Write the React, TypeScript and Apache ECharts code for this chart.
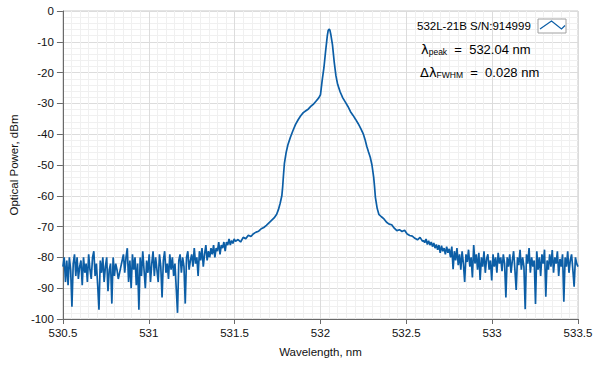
import React, { useEffect, useRef } from "react";
import * as echarts from "echarts";

// ---- data ----
const NOISE_STEP = 0.0075;
const leftNoiseStart = 530.5;
const leftNoisePower = [
  -83, -80, -88, -81, -89, -80, -84, -96, -82, -79,
  -86, -80, -87, -83, -81, -89, -80, -85, -82, -88,
  -79, -84, -87, -80, -78, -86, -82, -89, -97, -81,
  -85, -80, -88, -83, -80, -91, -84, -82, -95, -80,
  -86, -82, -84, -87, -85, -83, -81, -79, -85, -80,
  -77, -88, -81, -90, -79, -84, -80, -89, -82, -97,
  -80, -86, -78, -84, -90, -81, -85, -79, -88, -82,
  -78, -86, -80, -84, -88, -79, -83, -93, -81, -78,
  -85, -82, -87, -79, -84, -80, -86, -82, -90, -98,
  -81, -79, -85, -80, -83, -95, -80, -78, -84, -81,
  -79, -83, -77, -82, -80, -86, -78, -81, -77, -83,
  -79, -76, -81, -78, -80, -77, -79, -76, -80, -77,
  -78, -75, -79, -76, -77, -75, -78, -75, -76, -74,
  -76, -74.5, -75.5, -74,
];

const peakWavelength = [
  531.505, 531.52, 531.535, 531.55, 531.565, 531.58, 531.595, 531.61, 531.625, 531.64,
  531.655, 531.67, 531.685, 531.7, 531.715, 531.73, 531.745, 531.755, 531.765, 531.775,
  531.78, 531.785, 531.79, 531.8, 531.81, 531.825, 531.84, 531.855, 531.87, 531.885,
  531.9, 531.915, 531.93, 531.945, 531.96, 531.975, 531.99, 532.0, 532.01, 532.02,
  532.03, 532.04, 532.045, 532.05, 532.055, 532.06, 532.07, 532.08, 532.09, 532.1,
  532.115, 532.13, 532.145, 532.16, 532.175, 532.19, 532.205, 532.22, 532.235, 532.25,
  532.26, 532.27, 532.28, 532.29, 532.3, 532.31, 532.315, 532.32, 532.33, 532.34,
  532.355, 532.37, 532.385, 532.4, 532.415, 532.43, 532.445, 532.46, 532.475, 532.49,
  532.505, 532.52, 532.535, 532.55, 532.565, 532.58, 532.595,
];
const peakPower = [
  -74.8, -74.2, -75, -73.5, -73.9, -72.8, -73.2, -72.3, -71.8, -71.5,
  -70.7, -70.3, -69.6, -68.8, -68, -67.2, -66, -64.5, -62.5, -60,
  -57, -53, -49.5, -46, -43.5, -41, -38.8, -36.8, -35.3, -34,
  -33, -32.4, -31.8, -30.9, -30.2, -29.2, -28.2, -27.2, -22.5, -18.5,
  -13, -8, -6.3, -5.9, -6.2, -7.5, -11, -16.5, -21, -23.8,
  -26.3, -28.2, -29.6, -31, -32.7, -33.9, -35.2, -36.6, -38.2, -40,
  -41.8, -44, -45.8, -47.5, -50, -54, -57, -60.5, -64, -66,
  -66.8, -67.5, -68.6, -69.2, -69.4, -70.5, -71.3, -71, -71.6, -71.2,
  -72.4, -72.9, -73.1, -73.8, -74.3, -73.5, -74.8,
];

const rightNoiseStart = 532.6;
const rightNoisePower = [
  -74.5, -75.2, -74, -75.8, -74.6, -76, -75, -76.5, -75.3, -77,
  -75.8, -77.5, -76, -78.5, -76.2, -78, -77, -79, -76.5, -78.5,
  -77.2, -80, -76.5, -83.8, -78, -81, -77, -82.5, -79, -84,
  -78, -82, -88, -79, -81.5, -77.5, -83, -80, -86.5, -76,
  -82, -79, -84, -78.5, -87.3, -80, -83, -78, -85, -80.5,
  -79, -84, -81, -87.5, -79, -83, -80, -85, -78.5, -82,
  -80, -84.5, -79, -82, -93, -80, -83, -79, -85, -81,
  -78, -84, -90.6, -80, -82.5, -77.5, -84, -80, -83, -96.8,
  -79, -82, -77, -85, -80, -83, -81, -95.1, -78, -84,
  -80, -86, -79, -82, -77.5, -92.8, -81, -84, -79, -83,
  -77.6, -85, -80, -82, -78, -86, -80.5, -83, -79, -94.4,
  -80, -83, -78, -85, -81, -79, -84, -89.5, -80, -82,
  -83,
];

const seriesName = "532L-21B S/N:914999";
const peakLabel = "532.04 nm";
const fwhmLabel = "0.028 nm";
const xTicks = { min: 530.5, max: 533.5, interval: 0.5 };
const yTicks = { min: -100, max: 0, interval: 10 };

const FONT = "'Liberation Sans', Arial, sans-serif";

function buildData(): [number, number][] {
  const out: [number, number][] = [];
  leftNoisePower.forEach((v, i) => out.push([+(leftNoiseStart + i * NOISE_STEP).toFixed(4), v]));
  peakWavelength.forEach((w, i) => out.push([w, peakPower[i]]));
  rightNoisePower.forEach((v, i) => out.push([+(rightNoiseStart + i * NOISE_STEP).toFixed(4), v]));
  return out;
}

export default function App() {
  const ref = useRef<HTMLDivElement>(null);
  useEffect(() => {
    if (!ref.current) return;
    const chart = echarts.init(ref.current, undefined, { renderer: "svg" });
    const blue = "#0c5ea6";
    const richStyles = {
      l: { fontFamily: "'DejaVu Sans', sans-serif", fontSize: 13, verticalAlign: "bottom", fill: "#000" },
      s: { fontFamily: FONT, fontSize: 8.5, verticalAlign: "bottom", fill: "#000", padding: [0, 0, -1, 0] },
      n: { fontFamily: FONT, fontSize: 13, verticalAlign: "bottom", fill: "#000" },
    };
    chart.setOption({
      animation: false,
      backgroundColor: "#ffffff",
      textStyle: { fontFamily: FONT },
      grid: {
        left: 60,
        right: 21,
        top: 11,
        bottom: 51,
        show: true,
        borderColor: "#c8c8c8",
        borderWidth: 1,
        backgroundColor: "transparent",
      },
      xAxis: {
        type: "value",
        min: xTicks.min,
        max: xTicks.max,
        interval: xTicks.interval,
        name: "Wavelength, nm",
        nameLocation: "middle",
        nameGap: 27,
        nameTextStyle: { fontFamily: FONT, fontSize: 11.5, color: "#111" },
        axisLine: { show: true, onZero: false, lineStyle: { color: "#6a6a6a", width: 1 } },
        axisTick: { show: true, length: 5, lineStyle: { color: "#6a6a6a" } },
        axisLabel: { fontFamily: FONT, fontSize: 11.5, color: "#111", margin: 8 },
        splitLine: { show: true, lineStyle: { color: "#dcdcdc", width: 1 } },
        minorTick: { show: false, splitNumber: 10 },
        minorSplitLine: { show: true, lineStyle: { color: "#f0f0f0", width: 1 } },
      },
      yAxis: {
        type: "value",
        min: yTicks.min,
        max: yTicks.max,
        interval: yTicks.interval,
        name: "Optical Power, dBm",
        nameLocation: "middle",
        nameGap: 37,
        nameTextStyle: { fontFamily: FONT, fontSize: 11.5, color: "#111" },
        axisLine: { show: true, lineStyle: { color: "#6a6a6a", width: 1 } },
        axisTick: { show: true, length: 6, lineStyle: { color: "#6a6a6a" } },
        axisLabel: { fontFamily: FONT, fontSize: 11.5, color: "#111", margin: 9 },
        splitLine: { show: true, lineStyle: { color: "#dcdcdc", width: 1 } },
        minorTick: { show: false, splitNumber: 5 },
        minorSplitLine: { show: true, lineStyle: { color: "#f0f0f0", width: 1 } },
      },
      series: [
        {
          name: seriesName,
          type: "line",
          data: buildData(),
          showSymbol: false,
          symbol: "none",
          clip: true,
          lineStyle: { color: blue, width: 1.7 },
        },
      ],
      graphic: {
        elements: [
          {
            type: "group",
            z: 100,
            children: [
              {
                type: "text",
                x: 417,
                y: 26,
                z: 100,
                style: {
                  text: seriesName,
                  fontFamily: FONT,
                  fontSize: 11.5,
                  fill: "#000",
                  verticalAlign: "middle",
                },
              },
              {
                type: "rect",
                z: 100,
                shape: { x: 538, y: 19, width: 28, height: 14 },
                style: { fill: "#ffffff", stroke: "#a0a0a0", lineWidth: 1 },
              },
              {
                type: "polyline",
                z: 101,
                shape: { points: [[540, 29], [551.5, 21], [561.5, 29], [565, 25.5]] },
                style: { stroke: blue, lineWidth: 1.2, fill: "none" },
              },
              {
                type: "text",
                x: 421,
                y: 49,
                z: 100,
                style: {
                  text: "{l|λ}{s|peak}{n|  =  " + peakLabel + "}",
                  fill: "#000",
                  verticalAlign: "middle",
                  rich: richStyles,
                },
              },
              {
                type: "text",
                x: 420,
                y: 72,
                z: 100,
                style: {
                  text: "{l|Δλ}{s|FWHM}{n|  =  " + fwhmLabel + "}",
                  fill: "#000",
                  verticalAlign: "middle",
                  rich: richStyles,
                },
              },
            ],
          },
        ],
      },
    });
    return () => chart.dispose();
  }, []);
  return (
    <div
      ref={ref}
      style={{ position: "fixed", left: 0, top: 0, width: 599, height: 370, background: "#fff" }}
    />
  );
}
